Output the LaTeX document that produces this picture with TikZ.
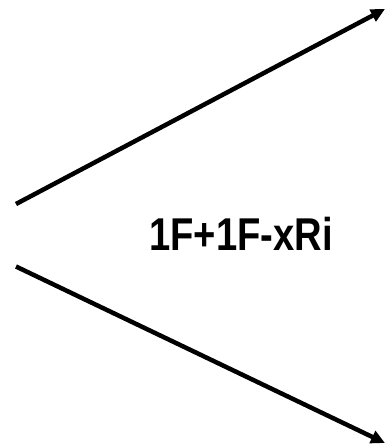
\documentclass[tikz,border=0pt]{standalone}
\usepackage{fontspec}
\setmainfont{Liberation Sans}
\usetikzlibrary{arrows.meta}
\begin{document}
\begin{tikzpicture}[x=1pt,y=-1pt,
  arr/.style={line width=4.5pt,-{Triangle[length=14pt,width=13pt]}},
  lbl/.style={font=\bfseries\fontsize{46}{50}\selectfont,inner sep=0pt,anchor=base}]
\useasboundingbox (0,0) rectangle (384,445);
\coordinate (s1) at (16,204);
\coordinate (e1) at (385,9);
\coordinate (s2) at (16,266.5);
\coordinate (e2) at (385,443);
\draw[arr] (s1) -- (e1);
\draw[arr] (s2) -- (e2);
\node[lbl] (t) at (241,250) {\scalebox{0.83}[1]{1F+1F-xRi}};
\end{tikzpicture}
\end{document}
